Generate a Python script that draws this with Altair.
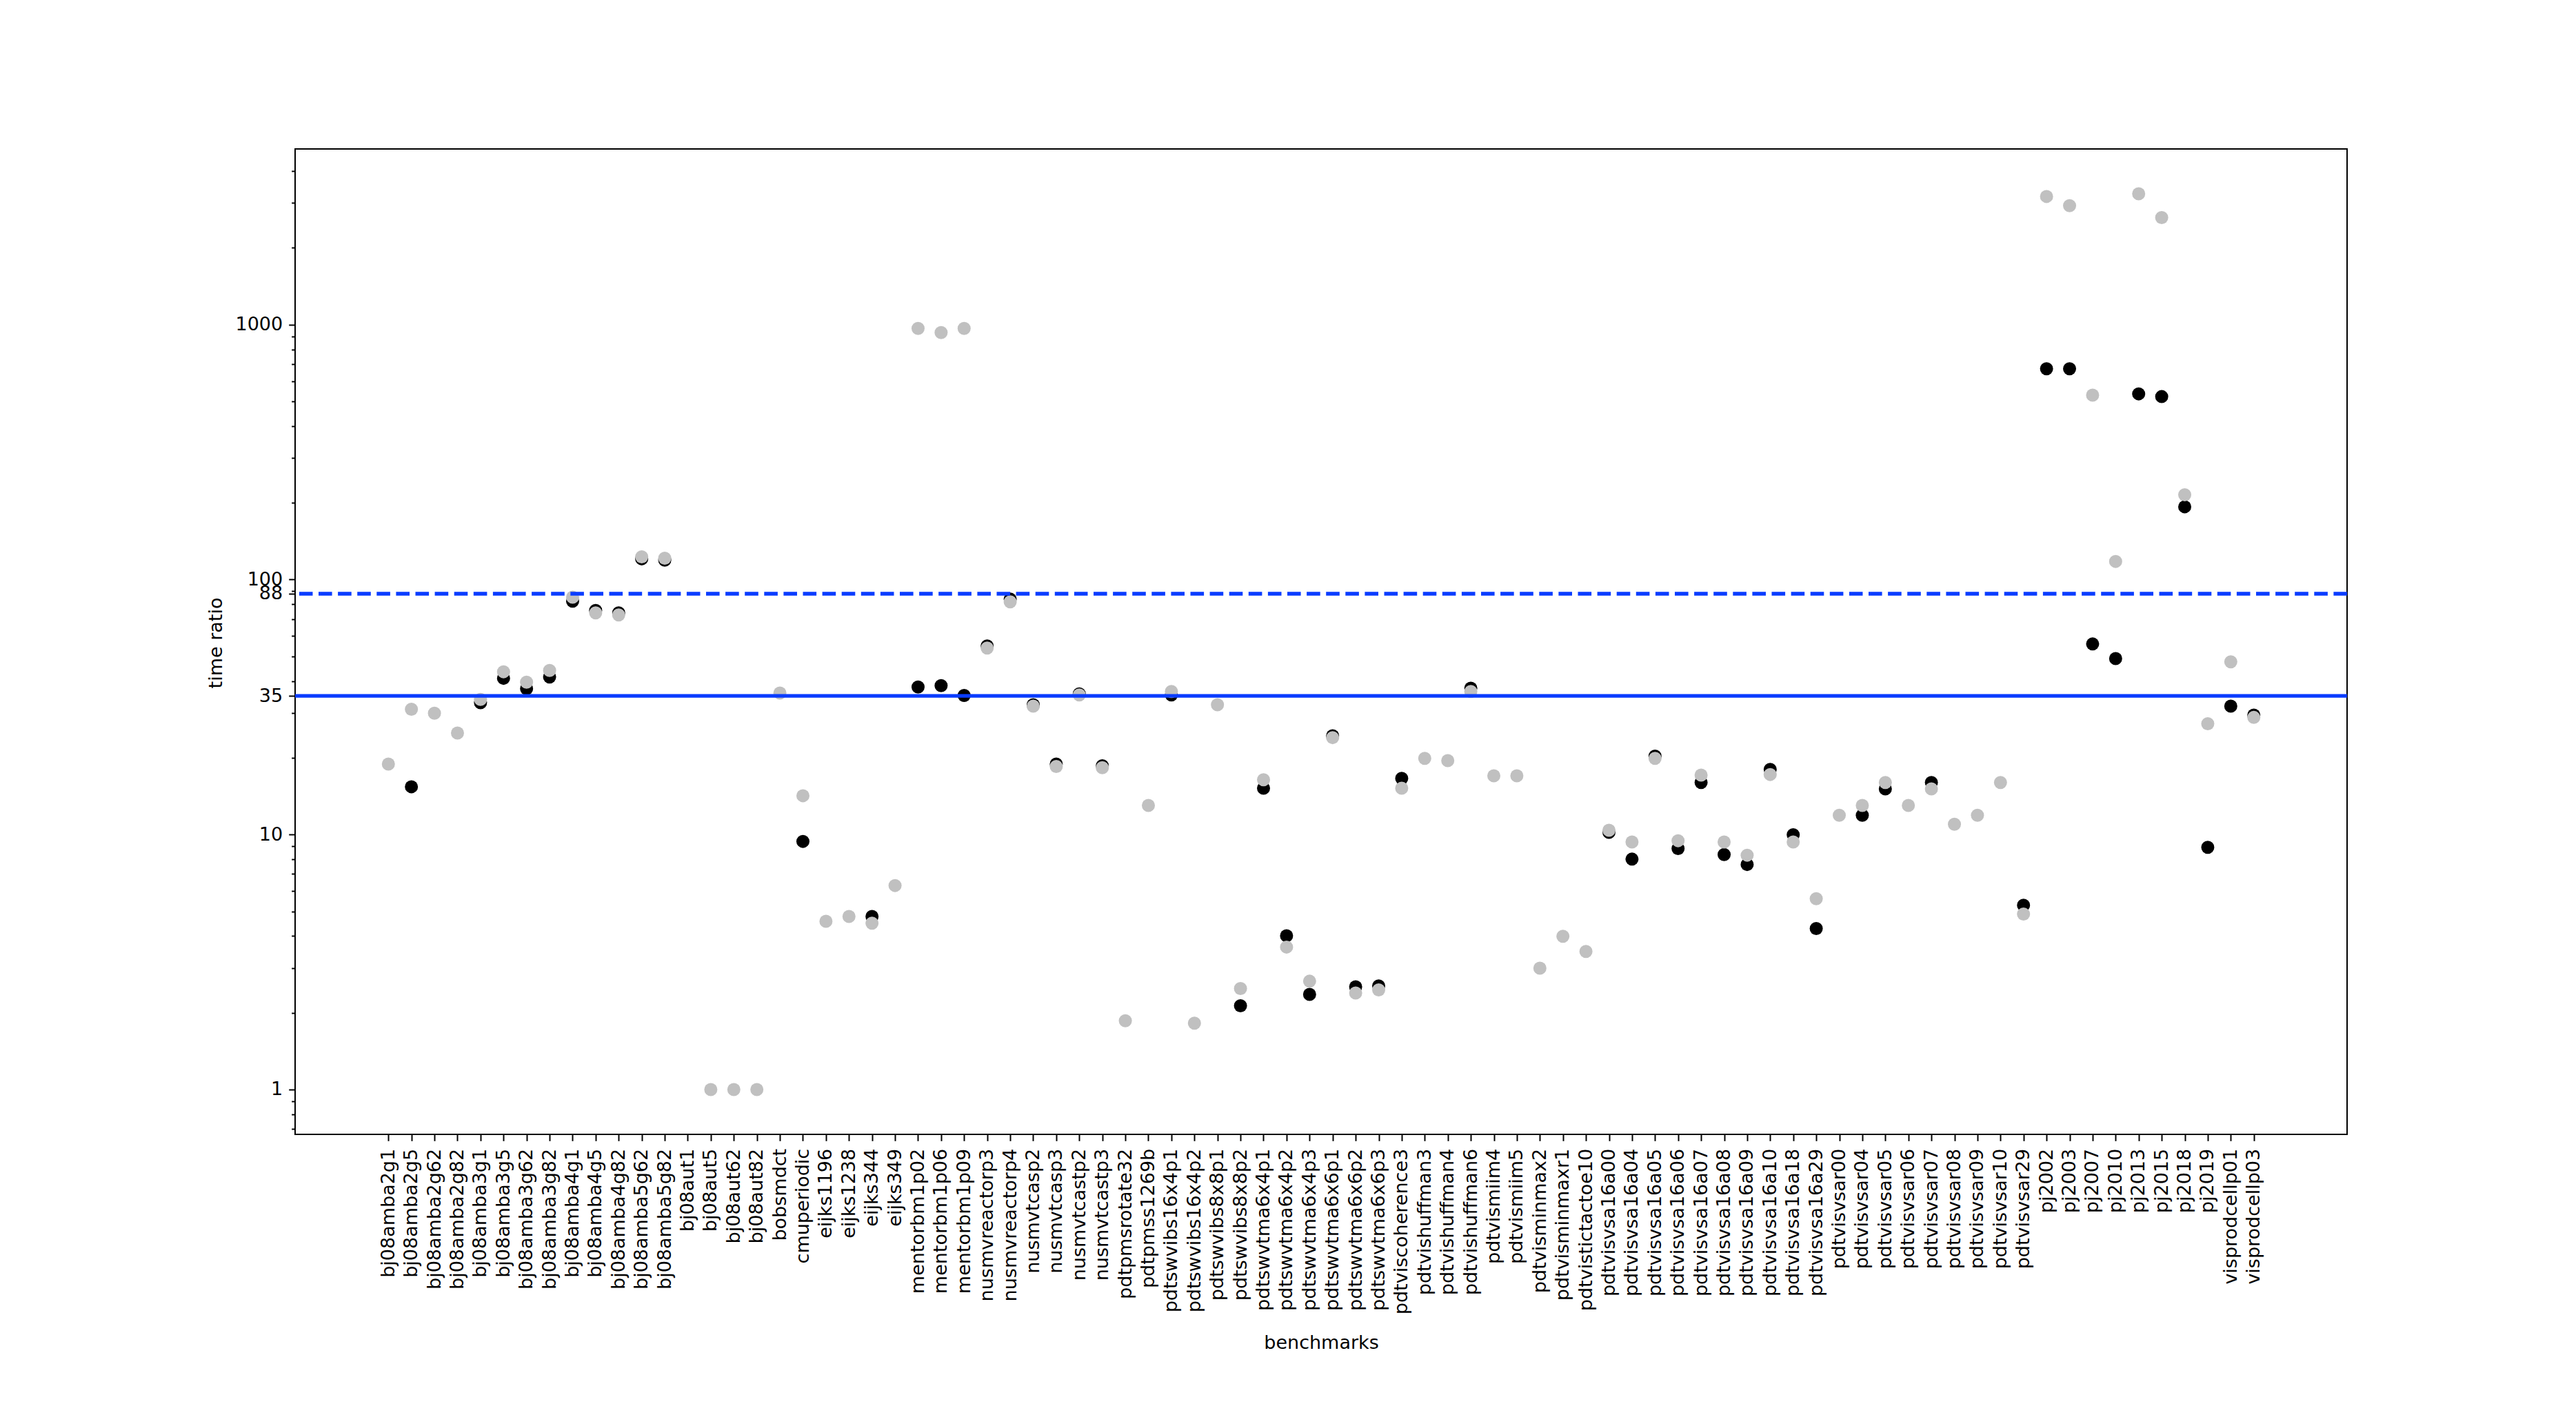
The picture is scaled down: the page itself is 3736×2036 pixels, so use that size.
import altair as alt
import pandas as pd

names = [
    "bj08amba2g1", "bj08amba2g5", "bj08amba2g62", "bj08amba2g82", "bj08amba3g1",
    "bj08amba3g5", "bj08amba3g62", "bj08amba3g82", "bj08amba4g1", "bj08amba4g5",
    "bj08amba4g82", "bj08amba5g62", "bj08amba5g82", "bj08aut1", "bj08aut5",
    "bj08aut62", "bj08aut82", "bobsmdct", "cmuperiodic", "eijks1196",
    "eijks1238", "eijks344", "eijks349", "mentorbm1p02", "mentorbm1p06",
    "mentorbm1p09", "nusmvreactorp3", "nusmvreactorp4", "nusmvtcasp2", "nusmvtcasp3",
    "nusmvtcastp2", "nusmvtcastp3", "pdtpmsrotate32", "pdtpmss1269b", "pdtswvibs16x4p1",
    "pdtswvibs16x4p2", "pdtswvibs8x8p1", "pdtswvibs8x8p2", "pdtswvtma6x4p1", "pdtswvtma6x4p2",
    "pdtswvtma6x4p3", "pdtswvtma6x6p1", "pdtswvtma6x6p2", "pdtswvtma6x6p3", "pdtviscoherence3",
    "pdtvishuffman3", "pdtvishuffman4", "pdtvishuffman6", "pdtvismiim4", "pdtvismiim5",
    "pdtvisminmax2", "pdtvisminmaxr1", "pdtvistictactoe10", "pdtvisvsa16a00", "pdtvisvsa16a04",
    "pdtvisvsa16a05", "pdtvisvsa16a06", "pdtvisvsa16a07", "pdtvisvsa16a08", "pdtvisvsa16a09",
    "pdtvisvsa16a10", "pdtvisvsa16a18", "pdtvisvsa16a29", "pdtvisvsar00", "pdtvisvsar04",
    "pdtvisvsar05", "pdtvisvsar06", "pdtvisvsar07", "pdtvisvsar08", "pdtvisvsar09",
    "pdtvisvsar10", "pdtvisvsar29", "pj2002", "pj2003", "pj2007",
    "pj2010", "pj2013", "pj2015", "pj2018", "pj2019",
    "visprodcellp01", "visprodcellp03",
]

black = [
    None, 15.4, None, None, 32.9,
    41.0, 37.3, 41.5, 82.3, 75.7,
    74.0, 120.6, 119.2, None, None,
    None, None, None, 9.4, None,
    None, 4.77, None, 37.9, 38.4,
    35.1, 54.9, 83.8, 32.3, 18.9,
    35.6, 18.6, None, None, 35.3,
    None, None, 2.13, 15.2, 4.01,
    2.36, 24.4, 2.53, 2.55, 16.6,
    None, None, 37.5, None, None,
    None, None, None, 10.2, 8.01,
    20.3, 8.81, 16.0, 8.35, 7.63,
    18.0, 9.98, 4.28, None, 11.9,
    15.1, None, 16.0, None, None,
    None, 5.28, 671, 671, 55.9,
    49.0, 535, 522, 193, 8.91,
    31.9, 29.4,
]

gray = [
    18.9, 31.0, 29.9, 25.0, 33.9,
    43.5, 39.6, 44.0, 85.3, 74.0,
    72.7, 122.8, 121.3, None, 1.0,
    1.0, 1.0, 35.9, 14.2, 4.57,
    4.77, 4.49, 6.31, 966, 931,
    966, 53.9, 81.8, 31.9, 18.5,
    35.3, 18.3, 1.86, 13.0, 36.4,
    1.82, 32.3, 2.49, 16.4, 3.62,
    2.66, 24.0, 2.39, 2.46, 15.2,
    19.9, 19.5, 36.4, 17.0, 17.0,
    2.99, 3.99, 3.48, 10.4, 9.35,
    19.9, 9.46, 17.1, 9.35, 8.30,
    17.2, 9.35, 5.60, 11.9, 13.0,
    16.0, 13.0, 15.1, 10.98, 11.9,
    16.0, 4.88, 3181, 2926, 529,
    117.8, 3258, 2628, 215, 27.2,
    47.6, 28.8,
]

ref_solid = [35]
ref_dashed = [88]
major_ticks = [1, 10, 35, 88, 100, 1000]
minor_ticks = [0.7, 0.8, 0.9, 2, 3, 4, 5, 6, 7, 8, 9,
               20, 30, 40, 50, 60, 70, 80, 90,
               200, 300, 400, 500, 600, 700, 800, 900,
               2000, 3000, 4000]

df_b = pd.DataFrame({"benchmark": names, "ratio": black}).dropna()
df_g = pd.DataFrame({"benchmark": names, "ratio": gray}).dropna()
df_s = pd.DataFrame({"value": ref_solid})
df_d = pd.DataFrame({"value": ref_dashed})

W, H = 2976, 1429
FONT = "DejaVu Sans"
FS = 27
BLUE = "#0a3cff"
GRAY = "#c0c0c0"

# matplotlib-like 5% margin on the categorical axis
n = len(names)
step = W / ((n - 1) * 1.1)
pad = 0.05 * (n - 1) * step

x_scale = alt.Scale(type="point", domain=names, range=[pad, W - pad], padding=0)
y_scale = alt.Scale(type="log", domain=[0.667, 4885], nice=False)

x_axis = alt.Axis(
    title="benchmarks", labelAngle=270, labelAlign="right", labelBaseline="middle",
    labelPadding=11, tickSize=9.3, labelOverlap=False, labelLimit=1000,
    titleX=W / 2, titleY=310, titleAlign="center", titleBaseline="alphabetic",
    grid=False, domain=False,
)
y_axis = alt.Axis(
    title="time ratio", values=major_ticks, format="d", tickSize=9.3, labelPadding=9,
    titleAngle=270, titleX=-107, titleY=716, titleAlign="center",
    titleBaseline="alphabetic", grid=False, domain=False, labelOverlap=False,
    orient="left",
)
y_minor = alt.Axis(
    title=None, values=minor_ticks, labels=False, tickSize=5.3, grid=False,
    domain=False, orient="left",
)

pts_black = alt.Chart(df_b).mark_circle(size=361, opacity=1, color="black").encode(
    x=alt.X("benchmark:N", scale=x_scale, axis=x_axis),
    y=alt.Y("ratio:Q", scale=y_scale, axis=y_axis),
)
pts_gray = alt.Chart(df_g).mark_circle(size=361, opacity=1, color=GRAY).encode(
    x=alt.X("benchmark:N", scale=x_scale, axis=x_axis),
    y=alt.Y("ratio:Q", scale=y_scale, axis=y_minor),
)
rule_solid = alt.Chart(df_s).mark_rule(color=BLUE, strokeWidth=5.3).encode(
    y=alt.Y("value:Q", scale=y_scale, axis=None),
)
rule_dashed = alt.Chart(df_d).mark_rule(color=BLUE, strokeWidth=5.3, strokeDash=[19.6, 8.5]).encode(
    y=alt.Y("value:Q", scale=y_scale, axis=None),
)

chart = (
    alt.layer(pts_black, pts_gray, rule_solid, rule_dashed)
    .resolve_axis(y="independent")
    .properties(
        width=W, height=H,
        autosize=alt.AutoSizeParams(type="none"),
        padding={"left": 420, "top": 208, "right": 316, "bottom": 375},
    )
    .configure_view(stroke="black", strokeWidth=2)
    .configure_axis(
        labelFont=FONT, labelFontSize=FS, titleFont=FONT, titleFontSize=FS,
        titleFontWeight="normal", labelColor="black", titleColor="black",
        tickColor="black", tickWidth=2,
    )
)

chart.save("out.html", embed_options={"renderer": "svg", "actions": False})
